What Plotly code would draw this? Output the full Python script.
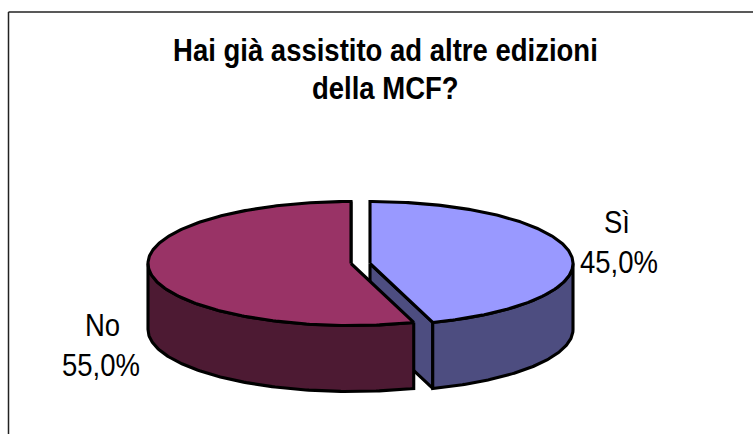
import numpy as np
import plotly.graph_objects as go

# Survey answers, in percent
categories = ["Sì", "No"]
shares = [45.0, 55.0]
title_lines = ["Hai già assistito ad altre edizioni", "della MCF?"]

top_colors = ["#9999FF", "#993366"]
side_colors = ["#4D4D80", "#4D1A33"]

# Pie geometry in page pixels: ellipse radii, extrusion depth, centre, slice pull-out
RX, RY, DEPTH = 203, 62, 66
CX, CY = 360.5, 263.5
PULL = 9.5
LABEL_POS = [((617, 222), (619, 262)), ((102, 325), (101, 365))]
EDGE = dict(color="black", width=3.1)
FONT = "Liberation Sans"

# The typeface runs tall and slightly condensed, so stretch the text vertically
TALL_TEXT = """
document.querySelectorAll('.annotation-text').forEach(function (t) {
  t.style.transformBox = 'fill-box';
  t.style.transformOrigin = 'center';
  t.style.transform = 'scaleY(1.15)';
});
"""

fig = go.Figure()


def rim(angles, cx, cy):
    """Points on the top ellipse; angles are clockwise from 12 o'clock, in radians."""
    return cx + RX * np.sin(angles), cy - RY * np.cos(angles)


def polygon(xs, ys, color):
    fig.add_trace(go.Scatter(x=xs, y=ys, mode="lines", fill="toself", fillcolor=color,
                             line=EDGE, hoverinfo="skip", showlegend=False))


# Slice boundaries follow from the shares
bounds = np.cumsum([0.0] + shares) / sum(shares) * 2 * np.pi

for i, name in enumerate(categories):
    a0, a1 = bounds[i], bounds[i + 1]
    mid = (a0 + a1) / 2
    cx = CX + PULL * np.sign(np.sin(mid))
    cy = CY

    # Exposed cut wall of the slice that ends on the near side
    if a0 < np.pi < a1 or a1 <= np.pi:
        ex, ey = rim(np.array([a1]), cx, cy)
        polygon([cx, ex[0], ex[0], cx, cx],
                [cy, ey[0], ey[0] + DEPTH, cy + DEPTH, cy], side_colors[i])

    # Outer wall: only the front half of the ellipse shows
    lo, hi = max(a0, np.pi / 2), min(a1, 3 * np.pi / 2)
    if hi > lo:
        t = np.linspace(lo, hi, 120)
        x, y = rim(t, cx, cy)
        polygon(np.r_[x, x[::-1], x[0]], np.r_[y, y[::-1] + DEPTH, y[0]], side_colors[i])

    # Top face
    t = np.linspace(a0, a1, 240)
    x, y = rim(t, cx, cy)
    polygon(np.r_[cx, x, cx], np.r_[cy, y, cy], top_colors[i])

annotations = []
for (name, share, pos) in zip(categories, shares, LABEL_POS):
    pct = f"{share:.1f}".replace(".", ",") + "%"
    for text, (px, py) in zip([name, pct], pos):
        annotations.append(dict(x=px, y=py, text=text, showarrow=False, xref="x", yref="y",
                                xanchor="center", yanchor="middle",
                                font=dict(family=FONT, size=27.5, color="black")))

for text, py in zip(title_lines, [50, 88]):
    annotations.append(dict(x=385.5, y=py, text=f"<b>{text}</b>", showarrow=False, xref="x", yref="y",
                            xanchor="center", yanchor="middle",
                            font=dict(family=FONT, size=27.5, color="black")))

# Only the top and left sides of the chart frame are in view
frame = dict(type="line", xref="x", yref="y", line=dict(color="#222222", width=1.5))
shapes = [dict(frame, x0=8.5, x1=753, y0=12, y1=12), dict(frame, x0=8.5, x1=8.5, y0=12, y1=434)]

fig.update_layout(
    width=753, height=434, margin=dict(l=0, r=0, t=0, b=0),
    paper_bgcolor="white", plot_bgcolor="white", showlegend=False,
    xaxis=dict(range=[0, 753], visible=False, fixedrange=True),
    yaxis=dict(range=[434, 0], visible=False, fixedrange=True),
    annotations=annotations, shapes=shapes,
)
fig.write_html("out.html", config=dict(displayModeBar=False), post_script=TALL_TEXT)
